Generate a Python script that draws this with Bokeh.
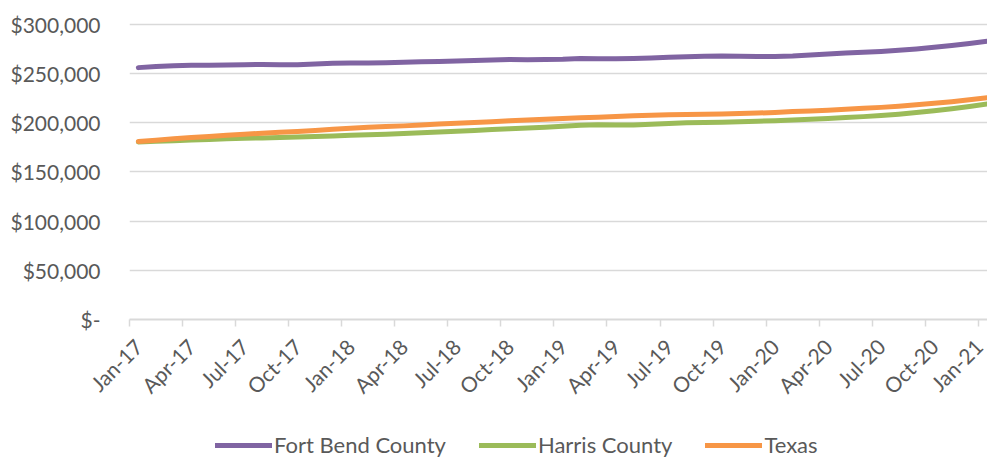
import math
from bokeh.plotting import figure
from bokeh.layouts import column
from bokeh.models import (FixedTicker, LinearAxis, NumeralTickFormatter, Legend,
                          LegendItem, Range1d, ColumnDataSource)
from bokeh.embed import file_html
from bokeh.resources import INLINE

# ---------------- data ----------------
months = ["Jan-17", "Feb-17", "Mar-17", "Apr-17", "May-17", "Jun-17", "Jul-17", "Aug-17",
          "Sep-17", "Oct-17", "Nov-17", "Dec-17", "Jan-18", "Feb-18", "Mar-18", "Apr-18",
          "May-18", "Jun-18", "Jul-18", "Aug-18", "Sep-18", "Oct-18", "Nov-18", "Dec-18",
          "Jan-19", "Feb-19", "Mar-19", "Apr-19", "May-19", "Jun-19", "Jul-19", "Aug-19",
          "Sep-19", "Oct-19", "Nov-19", "Dec-19", "Jan-20", "Feb-20", "Mar-20", "Apr-20",
          "May-20", "Jun-20", "Jul-20", "Aug-20", "Sep-20", "Oct-20", "Nov-20", "Dec-20",
          "Jan-21"]

fort_bend = [256000, 257200, 258000, 258500, 258300, 258600, 259000, 259300, 259000, 258900,
             259800, 260500, 260800, 260600, 261000, 261400, 262000, 262200, 262700, 263300,
             263800, 264200, 264000, 264300, 264600, 265300, 265000, 265000, 265300, 265800,
             266500, 267000, 267600, 267800, 267500, 267200, 267300, 267800, 268800, 269800,
             270800, 271600, 272500, 273700, 275000, 276600, 278400, 280500, 282800]

harris = [180400, 181100, 181800, 182400, 183000, 183600, 184100, 184600, 185100, 185600,
          186000, 186600, 187200, 187800, 188400, 189100, 189800, 190500, 191300, 192200,
          193000, 193800, 194600, 195500, 196500, 197500, 197900, 197600, 197800, 198500,
          199300, 200000, 200300, 200600, 201000, 201500, 202000, 202800, 203600, 204400,
          205200, 206200, 207400, 208700, 210300, 212200, 214300, 216500, 219000]

texas = [181000, 182300, 183600, 184900, 186100, 187300, 188300, 189300, 190300, 191200,
         192200, 193300, 194300, 195300, 196200, 196800, 197600, 198600, 199500, 200300,
         201000, 201900, 202800, 203600, 204400, 205000, 205600, 206300, 207000, 207500,
         208000, 208400, 208700, 208900, 209300, 209800, 210500, 211300, 212000, 212800,
         213700, 214600, 215600, 216800, 218200, 219700, 221400, 223300, 225400]

series_names = ["Fort Bend County", "Harris County", "Texas"]
series_colors = ["#8064a2", "#9bbb59", "#f79646"]

y_ticks = [0, 50000, 100000, 150000, 200000, 250000, 300000]

# ---------------- figure ----------------
x_idx = list(range(len(months)))
source = ColumnDataSource(dict(x=x_idx, fb=fort_bend, ha=harris, tx=texas))
cols = ["fb", "ha", "tx"]

FONT = "Lato"
TXT = "#595959"
GRID = "#d9d9d9"

p = figure(width=987, height=410, output_backend="svg", toolbar_location=None,
           x_range=Range1d(-0.5, 48.02), y_range=Range1d(0, 310000),
           min_border_left=129, min_border_right=0, min_border_top=14,
           min_border_bottom=88, outline_line_color=None)

# y axis
yax = p.yaxis[0]
yax.ticker = FixedTicker(ticks=y_ticks)
yax.formatter = NumeralTickFormatter(format="$0,0")
yax.major_label_overrides = {0: "$-"}
yax.axis_line_color = None
yax.major_tick_line_color = None
yax.minor_tick_line_color = None
yax.major_tick_out = 0
yax.major_tick_in = 0
yax.major_label_standoff = 29
yax.major_label_text_font = FONT
yax.major_label_text_font_size = "21px"
yax.major_label_text_color = TXT

p.ygrid.ticker = FixedTicker(ticks=y_ticks)
p.ygrid.grid_line_color = GRID
p.ygrid.grid_line_width = 1.5
p.xgrid.grid_line_color = None

# x axis 1: boundary tick marks, no labels
boundary_ticks = [i - 0.5 for i in range(0, len(months), 3)]
xax = p.xaxis[0]
xax.ticker = FixedTicker(ticks=boundary_ticks)
xax.major_label_overrides = {t: "" for t in boundary_ticks}
xax.axis_line_color = GRID
xax.axis_line_width = 2
xax.major_tick_line_color = GRID
xax.major_tick_line_width = 1.5
xax.major_tick_out = 7
xax.major_tick_in = 0
xax.minor_tick_line_color = None
xax.major_label_standoff = 0

# x axis 2: rotated labels at category centres
label_ticks = list(range(0, len(months), 3))
xlab = LinearAxis(ticker=FixedTicker(ticks=label_ticks))
xlab.major_label_overrides = {i: months[i] for i in label_ticks}
xlab.axis_line_color = None
xlab.major_tick_line_color = None
xlab.minor_tick_line_color = None
xlab.major_tick_out = 0
xlab.major_tick_in = 0
xlab.major_label_orientation = math.pi / 4
xlab.major_label_standoff = 16
xlab.major_label_text_font = FONT
xlab.major_label_text_font_size = "21px"
xlab.major_label_text_color = TXT
p.add_layout(xlab, "below")

# lines
for col, color in zip(cols, series_colors):
    p.line("x", col, source=source, line_color=color, line_width=5,
           line_cap="round", line_join="round")

# ---------------- legend strip (separate figure below) ----------------
p2 = figure(width=987, height=48, output_backend="svg", toolbar_location=None,
            x_range=Range1d(-0.5, 48.02), y_range=Range1d(0, 1),
            x_axis_location=None, y_axis_location=None,
            min_border_left=0, min_border_right=0, min_border_top=0, min_border_bottom=0,
            outline_line_color=None)
p2.grid.visible = False
leg_renderers = []
for col, color in zip(cols, series_colors):
    r = p2.line("x", col, source=source, line_color=color, line_width=5,
                line_cap="round", line_join="round")
    leg_renderers.append(r)

legend = Legend(items=[LegendItem(label=n, renderers=[r]) for n, r in zip(series_names, leg_renderers)],
                orientation="horizontal", location=(86, 0),
                label_text_font=FONT, label_text_font_size="22px", label_text_color=TXT,
                glyph_width=57, glyph_height=20, label_standoff=2, spacing=33,
                padding=0, margin=0, border_line_color=None, background_fill_alpha=0)
p2.add_layout(legend, "center")

layout = column(p, p2, spacing=0)
open("out.html", "w").write(file_html(layout, INLINE))
